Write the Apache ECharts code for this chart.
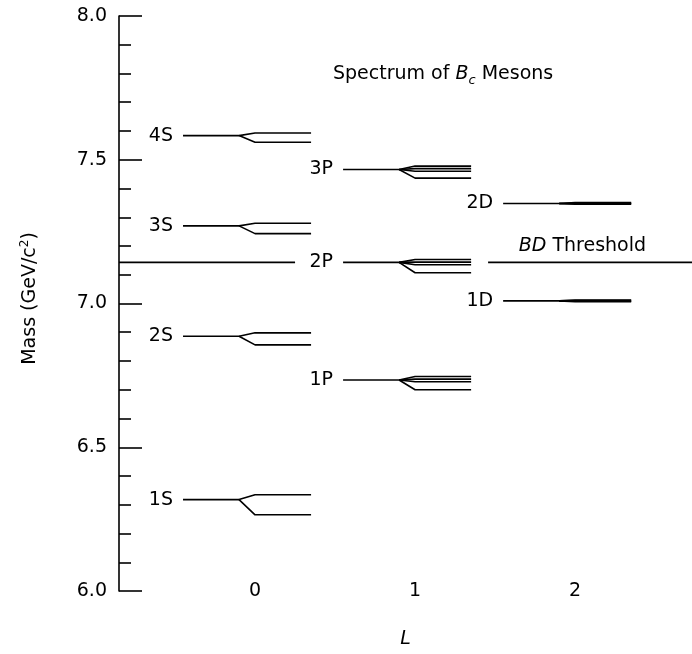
<!DOCTYPE html>
<html>
<head>
<meta charset="utf-8">
<script src="https://cdn.jsdelivr.net/npm/echarts@6/dist/echarts.min.js"></script>
<style>html,body{margin:0;padding:0;background:#fff;}#c{width:692px;height:654px;}</style>
</head>
<body>
<div id="c"></div>
<script>
// ---- data ----
const levelNames = ['1S', '2S', '3S', '4S', '1P', '2P', '3P', '1D', '2D'];
const levelL = [0, 0, 0, 0, 1, 1, 1, 2, 2];
const levelMass = [6.318, 6.886, 7.270, 7.584, 6.734, 7.143, 7.466, 7.009, 7.348];
const stateMasses = [
  [6.335, 6.265],
  [6.898, 6.856],
  [7.279, 7.243],
  [7.593, 7.561],
  [6.746, 6.737, 6.728, 6.700],
  [7.153, 7.144, 7.135, 7.107],
  [7.478, 7.469, 7.460, 7.436],
  [7.012, 7.010, 7.008, 7.006],
  [7.351, 7.349, 7.347, 7.345]
];
const thresholdMass = 7.143;
const xTickValues = [0, 1, 2];

// ---- layout constants (not data) ----
const MAIN_START = -0.45, SPLIT = -0.1, FAN_END = 0.0, LINE_END = 0.35;
const X_MIN = -0.85, X_MAX = 2.73;
const THRESH_GAP_START = 0.25, THRESH_GAP_END = 1.456, THRESH_TEXT_X = 2.045;
const FONT = 'DejaVu Sans';
const FS = 19;
const LW = 1.6;

const lineStyle = { color: '#000', width: LW };
const series = [];

// threshold line
series.push({ type: 'line', symbol: 'none', silent: true, lineStyle, data: [[X_MIN, thresholdMass], [THRESH_GAP_START, thresholdMass]] });
series.push({ type: 'line', symbol: 'none', silent: true, lineStyle, data: [[THRESH_GAP_END, thresholdMass], [X_MAX, thresholdMass]] });

levelNames.forEach((name, i) => {
  const L = levelL[i], m = levelMass[i];
  series.push({ type: 'line', symbol: 'none', silent: true, lineStyle, data: [[L + MAIN_START, m], [L + SPLIT, m]] });
  stateMasses[i].forEach(s => {
    series.push({ type: 'line', symbol: 'none', silent: true, lineStyle, data: [[L + SPLIT, m], [L + FAN_END, s], [L + LINE_END, s]] });
  });
});

// level labels
series.push({
  type: 'scatter', symbolSize: 0, silent: true, itemStyle: { opacity: 1, color: '#000' },
  data: levelNames.map((name, i) => ({ value: [levelL[i] + MAIN_START, levelMass[i]], name })),
  label: { show: true, position: 'left', distance: 10, formatter: p => p.name, color: '#000', opacity: 1, fontFamily: FONT, fontSize: FS }
});

// threshold text
series.push({
  type: 'scatter', symbolSize: 0, silent: true, itemStyle: { opacity: 1, color: '#000' },
  data: [{ value: [THRESH_TEXT_X, thresholdMass], name: 'BD Threshold' }],
  label: {
    show: true, position: 'top', distance: 7, formatter: '{i|BD}{n| Threshold}', color: '#000', opacity: 1, fontFamily: FONT, fontSize: FS,
    rich: {
      i: { fontStyle: 'italic', fontFamily: FONT, fontSize: FS, color: '#000' },
      n: { fontFamily: FONT, fontSize: FS, color: '#000' }
    }
  }
});

const chart = echarts.init(document.getElementById('c'), null, { renderer: 'canvas' });
chart.setOption({
  animation: false,
  backgroundColor: '#fff',
  title: {
    text: 'Spectrum of {i|B}{s|c} Mesons',
    left: 328, top: 57,
    textStyle: {
      fontFamily: FONT, fontSize: FS, fontWeight: 'normal', color: '#000',
      rich: {
        i: { fontFamily: FONT, fontSize: FS, fontStyle: 'italic', color: '#000' },
        s: { fontFamily: FONT, fontSize: 13, fontStyle: 'italic', color: '#000', padding: [12, 0, 0, 0] }
      }
    }
  },
  grid: { left: 119, right: 0, top: 16, bottom: 61, containLabel: false },
  xAxis: {
    type: 'value', min: X_MIN, max: X_MAX,
    name: 'L', nameLocation: 'middle', nameGap: 39,
    nameTextStyle: { fontFamily: FONT, fontSize: FS, fontStyle: 'italic', color: '#000' },
    axisLine: { show: false, onZero: false }, axisTick: { show: false }, splitLine: { show: false },
    axisLabel: { customValues: xTickValues, margin: 0, verticalAlign: 'middle', fontFamily: FONT, fontSize: FS, color: '#000' }
  },
  yAxis: {
    type: 'value', min: 6, max: 8, interval: 0.5,
    name: 'Mass (GeV/c{sup|2})', nameLocation: 'middle', nameGap: 78,
    nameTextStyle: {
      fontFamily: FONT, fontSize: FS, color: '#000', padding: [0, 0, 0, 10],
      rich: { sup: { fontFamily: FONT, fontSize: 12, color: '#000', padding: [0, 0, 10, 0] } }
    },
    axisLine: { show: true, onZero: false, lineStyle: { color: '#000', width: LW } },
    axisTick: { show: true, inside: true, length: 23, lineStyle: { color: '#000', width: LW } },
    minorTick: { show: true, splitNumber: 5, length: 12, lineStyle: { color: '#000', width: LW } },
    splitLine: { show: false },
    axisLabel: { formatter: v => v.toFixed(1), margin: 12, fontFamily: FONT, fontSize: FS, color: '#000' }
  },
  series
});
</script>
</body>
</html>
